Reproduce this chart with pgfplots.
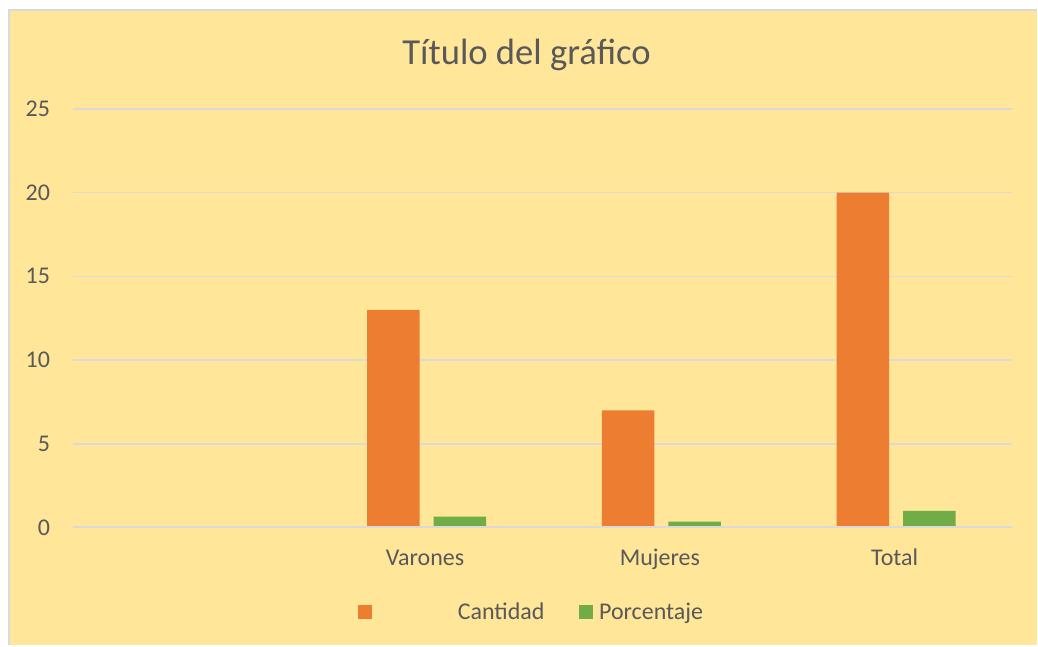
\documentclass[border=0pt]{standalone}
\usepackage{pgfplots}
\pgfplotsset{compat=1.18}
\usepackage{fontspec}
\setmainfont{Carlito}
\definecolor{bg}{HTML}{FFE699}
\definecolor{gridc}{HTML}{D9D9D9}
\definecolor{textc}{HTML}{595959}
\definecolor{naranja}{HTML}{ED7D31}
\definecolor{verde}{HTML}{70AD47}
\begin{document}
\begin{tikzpicture}[x=0.75pt,y=0.75pt]
% fondo del grafico
\fill[white] (0,0) rectangle (1038,646);
\fill[bg] (9,0) rectangle (1038,636);
\draw[gridc, line width=1.5pt] (9,0) -- (9,636) -- (1038,636);
\begin{axis}[
    at={(54.75pt,88.5pt)}, anchor=south west,
    scale only axis, width=705pt, height=314.25pt,
    clip=false,
    ybar, bar width=0.224,
    xmin=-0.5, xmax=3.5, ymin=0, ymax=25,
    ytick={0,5,10,15,20,25},
    xtick={0,1,2,3},
    xticklabels={,Varones,Mujeres,Total},
    ymajorgrids, grid style={gridc, line width=1.1pt},
    axis line style={draw=none},
    major tick length=0pt,
    tick label style={font=\fontsize{18}{21}\selectfont, text=textc},
    yticklabel style={anchor=east, inner sep=0pt, xshift=-17pt},
    xticklabel style={anchor=base, inner sep=0pt, yshift=-28.5pt},
    /pgf/number format/assume math mode=true,
    legend columns=-1,
    legend style={at={(0.3032,-0.2029)}, anchor=west, draw=none, fill=none,
        inner sep=0pt, font=\fontsize{18}{21}\selectfont, text=textc,
        nodes={inner sep=0pt},
        /tikz/every odd column/.append style={column sep=4.5pt},
        /tikz/every even column/.append style={column sep=26pt}},
    legend image code/.code={\fill[#1] (0pt,-5.25pt) rectangle (10.5pt,5.25pt);},
]
% Cantidad
\addplot[fill=naranja, draw=none, bar shift=-0.135] coordinates {
(1,13) (2,7) (3,20)
};
\addlegendentry{\hspace*{60pt}Cantidad}
% Porcentaje
\addplot[fill=verde, draw=none, bar shift=0.148] coordinates {
(1,0.65) (2,0.35) (3,1)
};
\addlegendentry{Porcentaje}
% linea base en cero
\draw[gridc, line width=1.5pt] (rel axis cs:0,0) -- (rel axis cs:1,0);
\end{axis}
\node[text=textc, font=\fontsize{27.5}{32}\selectfont] at (527,591) {Título del gráfico};
\end{tikzpicture}
\end{document}
